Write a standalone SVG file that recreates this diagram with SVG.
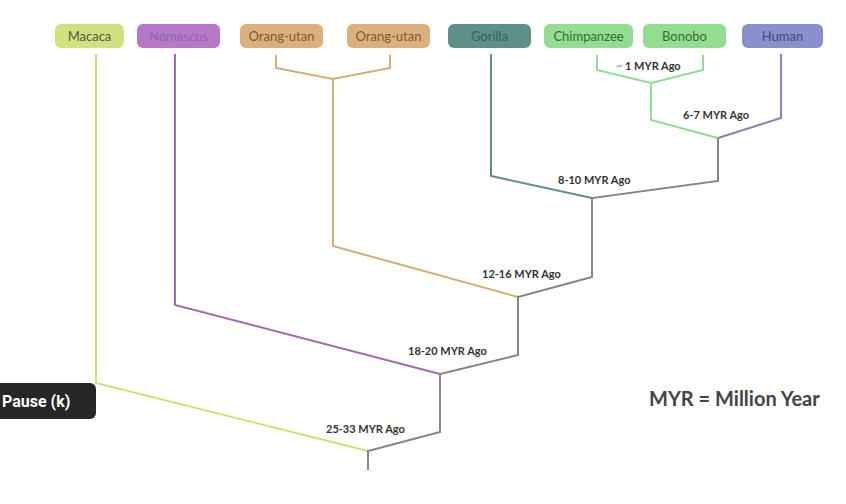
<svg xmlns="http://www.w3.org/2000/svg" width="846" height="504" viewBox="0 0 846 504">
<style>
.box{stroke-width:1}
.bt{font-family:Lato,"Open Sans","Liberation Sans",sans-serif;font-size:13px;text-anchor:middle}
.lbl{font-family:Lato,"Open Sans","Liberation Sans",sans-serif;font-size:11px;font-weight:bold;fill:#333}
.ln{fill:none;stroke-width:2;stroke-linejoin:miter}
</style>
<rect width="846" height="504" fill="#ffffff"/>
<g id="node-macaca"><rect class="box" x="55" y="24" width="69" height="24" rx="6" fill="#cfe27f"/><text class="bt" x="89.5" y="41" fill="#555a40">Macaca</text></g>
<g id="node-nomascus"><rect class="box" x="137" y="24" width="83" height="24" rx="6" fill="#b878c8"/><text class="bt" x="178.5" y="41" fill="#8a68a8">Nomascus</text></g>
<g id="node-orang1"><rect class="box" x="240" y="24" width="83" height="24" rx="6" fill="#dcb07c"/><text class="bt" x="281.5" y="41" fill="#7a5a38">Orang-utan</text></g>
<g id="node-orang2"><rect class="box" x="347" y="24" width="83" height="24" rx="6" fill="#dcb07c"/><text class="bt" x="388.5" y="41" fill="#7a5a38">Orang-utan</text></g>
<g id="node-gorilla"><rect class="box" x="448" y="24" width="83" height="24" rx="6" fill="#5f8f8a"/><text class="bt" x="489.5" y="41" fill="#3e5e5a">Gorilla</text></g>
<g id="node-chimpanzee"><rect class="box" x="544" y="24" width="89" height="24" rx="6" fill="#94dc90"/><text class="bt" x="588.5" y="41" fill="#3a6a3a">Chimpanzee</text></g>
<g id="node-bonobo"><rect class="box" x="643" y="24" width="83" height="24" rx="6" fill="#94dc90"/><text class="bt" x="684.5" y="41" fill="#3a6a3a">Bonobo</text></g>
<g id="node-human"><rect class="box" x="742" y="24" width="81" height="24" rx="6" fill="#8a90cc"/><text class="bt" x="782.5" y="41" fill="#44487a">Human</text></g>
<g id="connectors">
<polyline class="ln" stroke="#cde07a" points="96,54 96,383 368,451"/>
<polyline class="ln" stroke="#a468b4" points="175,54 175,305 440,374"/>
<polyline class="ln" stroke="#d8ac74" points="276,55 276,68 333,79 390,68 390,55"/>
<polyline class="ln" stroke="#d8ac74" points="333,79 333,246 518,297"/>
<polyline class="ln" stroke="#5e9090" points="491,54 491,176 592,198"/>
<polyline class="ln" stroke="#94dc94" points="597,55 597,70 651,83 703,70 703,55"/>
<polyline class="ln" stroke="#94dc94" points="651,83 651,120 718,138"/>
<polyline class="ln" stroke="#8286c0" points="781,54 781,118 718,138"/>
<polyline class="ln" stroke="#858585" points="718,138 718,181 592,198 592,277 518,297 518,355 440,374 440,432 368,451 368,470"/>
</g>
<text class="lbl" x="616" y="70"><tspan fill="#888" font-weight="normal">~</tspan> 1 MYR Ago</text>
<text class="lbl" x="683" y="119">6-7 MYR Ago</text>
<text class="lbl" x="558" y="184">8-10 MYR Ago</text>
<text class="lbl" x="482" y="278">12-16 MYR Ago</text>
<text class="lbl" x="408" y="355">18-20 MYR Ago</text>
<text class="lbl" x="326" y="433">25-33 MYR Ago</text>
<text x="649" y="406" font-family="Lato,'Open Sans','Liberation Sans',sans-serif" font-size="20" font-weight="bold" fill="#444">MYR = Million Year</text>
<g id="pause-overlay"><rect x="-8" y="383" width="104" height="36" rx="6" fill="#262626"/><text x="2" y="407" font-family="Roboto,'Liberation Sans',sans-serif" font-size="16" font-weight="bold" fill="#ffffff">Pause (k)</text></g>
</svg>
